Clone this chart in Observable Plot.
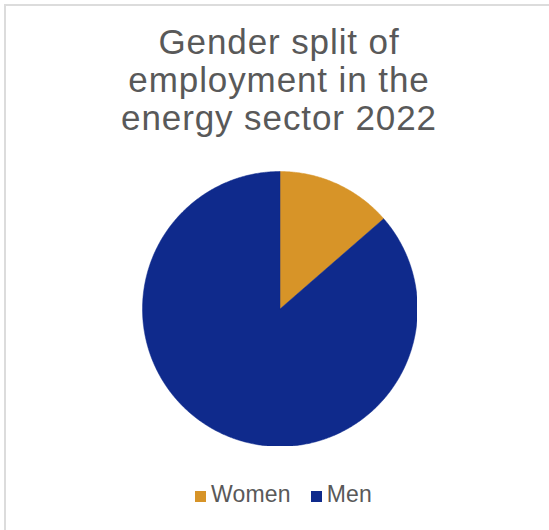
<!DOCTYPE html>
<html>
<head>
<meta charset="utf-8">
<script src="https://cdn.jsdelivr.net/npm/d3@7"></script>
<script src="https://cdn.jsdelivr.net/npm/@observablehq/plot@0.6"></script>
<style>
  html, body { margin: 0; padding: 0; background: #ffffff; }
  body { width: 549px; height: 530px; position: relative; overflow: hidden; font-family: "Liberation Sans", Arial, Helvetica, sans-serif; }
  #frame { position: absolute; left: 4px; top: 4px; width: 700px; height: 700px; border: 2px solid #dcdcdc; box-sizing: border-box; }
  #title { position: absolute; left: 0; top: 23px; width: 558px; text-align: center; color: #595959; font-size: 35px; line-height: 38px; letter-spacing: 0.9px; }
  #chart { position: absolute; left: 142px; top: 171px; }
  #legend { position: absolute; left: 0; top: 483px; width: 567px; display: flex; justify-content: center; align-items: baseline; color: #595959; font-size: 23px; line-height: 22px; letter-spacing: 0.2px; }
  .item { display: flex; align-items: baseline; margin: 0 10px; }
  .sw { display: inline-block; width: 11px; height: 11px; margin-right: 5px; }
</style>
</head>
<body>
<div id="frame"></div>
<div id="title"></div>
<div id="chart"></div>
<div id="legend"></div>
<script>
const titleLines = ["Gender split of", "employment in the", "energy sector 2022"];
const categories = ["Women", "Men"];
const shares = [13.6, 86.4];
const colors = ["#D79428", "#0F2A8C"];

document.getElementById("title").innerHTML = titleLines.map(t => `<div>${t}</div>`).join("");

// Slice outlines derived from the data via d3.pie
const arcs = d3.pie().sort(null).value(d => d)(shares);
const pts = [];
arcs.forEach((a, i) => {
  const cat = categories[i];
  pts.push({cat, x: 0, y: 0});
  const n = Math.max(4, Math.ceil((a.endAngle - a.startAngle) / (Math.PI / 360)));
  for (let k = 0; k <= n; k++) {
    const t = a.startAngle + (a.endAngle - a.startAngle) * k / n;
    pts.push({cat, x: Math.sin(t), y: Math.cos(t)});
  }
  pts.push({cat, x: 0, y: 0});
});

const size = 275;
const chart = Plot.plot({
  width: size,
  height: size,
  margin: 0,
  x: {domain: [-1, 1], axis: null},
  y: {domain: [-1, 1], axis: null},
  color: {domain: categories, range: colors},
  marks: [
    Plot.line(pts, {x: "x", y: "y", z: "cat", fill: "cat", stroke: "cat", strokeWidth: 0.5, curve: "linear"})
  ]
});
document.getElementById("chart").appendChild(chart);

const legend = document.getElementById("legend");
categories.forEach((c, i) => {
  const item = document.createElement("div");
  item.className = "item";
  const sw = document.createElement("span");
  sw.className = "sw";
  sw.style.background = colors[i];
  const lab = document.createElement("span");
  lab.textContent = c;
  item.appendChild(sw);
  item.appendChild(lab);
  legend.appendChild(item);
});
</script>
</body>
</html>
